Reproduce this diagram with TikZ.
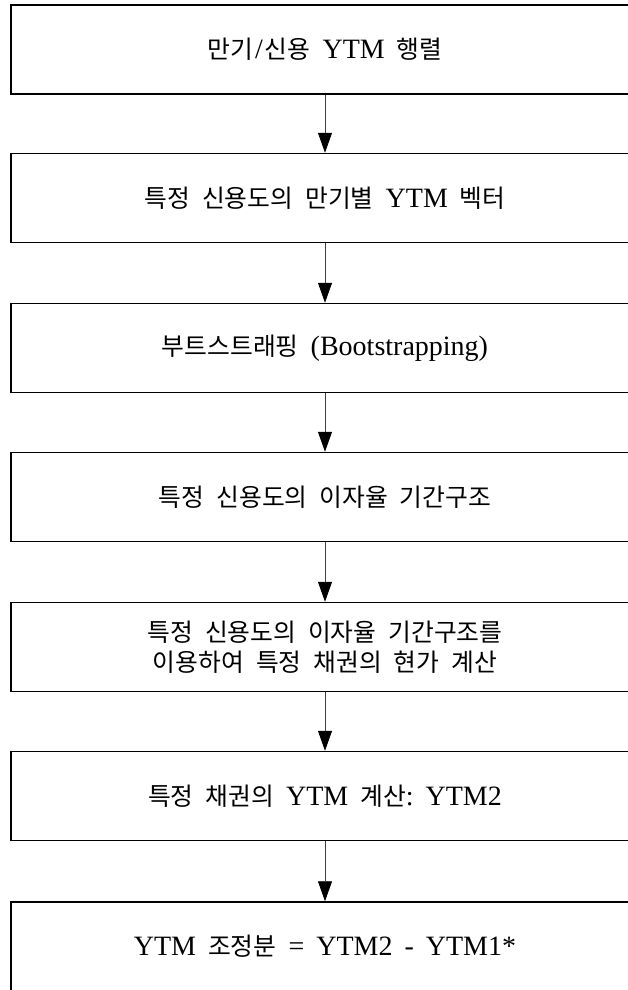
\documentclass[tikz,border=0pt]{standalone}
\usepackage{fontspec}
\setmainfont{Liberation Serif}
\newfontfamily\krfont{Noto Sans CJK KR}[Scale=0.885]
\newcommand{\K}[1]{{\krfont #1}}
\newcommand{\boxfont}{\fontsize{28}{32}\selectfont}
\newcommand{\gp}{\hspace{12pt}}
\usetikzlibrary{arrows.meta}
\tikzset{
  box/.style={draw=black, line width=1.5pt, minimum width=628pt, minimum height=89pt,
    inner sep=0pt, align=center, font=\boxfont},
  arr/.style={draw=black!75, line width=0.9pt,
    -{Triangle[length=20pt,width=14pt,fill=black,color=black]}}
}
\begin{document}
\begin{tikzpicture}[x=1pt,y=-1pt]
\useasboundingbox (0,0) rectangle (627,990);
\node[box] (b1) at (325,49.5) {\K{만기}\hspace{2pt}/\hspace{2pt}\K{신용}\gp YTM\gp\K{행렬}};
\node[box] (b2) at (325,198) {\K{특정}\gp\K{신용도의}\gp\K{만기별}\gp YTM\gp\K{벡터}};
\node[box] (b3) at (325,348) {\K{부트스트래핑}\gp(Bootstrapping)};
\node[box] (b4) at (325,497) {\K{특정}\gp\K{신용도의}\gp\K{이자율}\gp\K{기간구조}};
\node[box] (b5) at (325,647) {\K{특정}\gp\K{신용도의}\gp\K{이자율}\gp\K{기간구조를}\\[-2pt]\K{이용하여}\gp\K{특정}\gp\K{채권의}\gp\K{현가}\gp\K{계산}};
\node[box] (b6) at (325,796) {\K{특정}\gp\K{채권의}\gp YTM\gp\K{계산}:\gp YTM2};
\node[box] (b7) at (325,946.5) {YTM\gp\K{조정분}\gp=\gp YTM2\gp-\gp YTM1*};
\draw[arr] (b1.south) -- (b2.north);
\draw[arr] (b2.south) -- (b3.north);
\draw[arr] (b3.south) -- (b4.north);
\draw[arr] (b4.south) -- (b5.north);
\draw[arr] (b5.south) -- (b6.north);
\draw[arr] (b6.south) -- (b7.north);
\end{tikzpicture}
\end{document}
